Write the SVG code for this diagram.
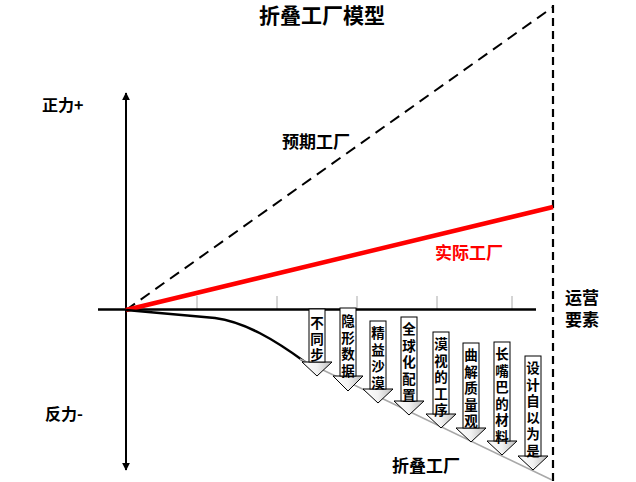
<svg xmlns="http://www.w3.org/2000/svg" width="636" height="482" viewBox="0 0 636 482">
<defs>
<linearGradient id="hg" x1="0" y1="0" x2="1" y2="0">
<stop offset="0" stop-color="#ffffff"/>
<stop offset="0.5" stop-color="#f2f2f2"/>
<stop offset="1" stop-color="#bdbdbd"/>
</linearGradient>
<marker id="ah" viewBox="0 0 10 10" refX="9" refY="5" markerWidth="4" markerHeight="4" orient="auto-start-reverse" markerUnits="strokeWidth">
<path d="M0,0 L10,5 L0,10 z" fill="#000"/>
</marker>
<style>
.t{font-family:"Noto Sans CJK SC","Liberation Sans",sans-serif;font-weight:bold;fill:#000}
.v{font-family:"Noto Sans CJK SC","Liberation Sans",sans-serif;font-weight:bold;font-size:13.5px;fill:#000;text-anchor:middle}
.shaft{fill:#fff;stroke:#000;stroke-width:1}
.head{fill:url(#hg);stroke:#000;stroke-width:1}
.tick{stroke:#aaa;stroke-width:1}
</style>
</defs>
<rect width="636" height="482" fill="#fff"/>
<text class="t" x="322" y="23" font-size="21" text-anchor="middle">折叠工厂模型</text>
<g id="connectors">
<line x1="126" y1="470" x2="126" y2="93" stroke="#000" stroke-width="2" marker-start="url(#ah)" marker-end="url(#ah)"/>
<line class="tick" x1="197" y1="296" x2="197" y2="310"/>
<line class="tick" x1="277" y1="296" x2="277" y2="310"/>
<line class="tick" x1="357" y1="296" x2="357" y2="310"/>
<line class="tick" x1="437" y1="296" x2="437" y2="310"/>
<line class="tick" x1="512" y1="296" x2="512" y2="310"/>
<line x1="98" y1="309.5" x2="536" y2="309.5" stroke="#000" stroke-width="2.5"/>
<line x1="553" y1="5" x2="553" y2="482" stroke="#000" stroke-width="2.2" stroke-dasharray="8,5"/>
<line x1="126" y1="310" x2="553" y2="7" stroke="#000" stroke-width="2" stroke-dasharray="11,7"/>
<line x1="126" y1="310" x2="553" y2="207" stroke="#ff0000" stroke-width="4.5"/>
<path d="M126,310 L215,318 C245,322 275,340 305,362" fill="none" stroke="#000" stroke-width="2.5"/>
<line x1="300" y1="359" x2="552" y2="480" stroke="#a8a8a8" stroke-width="1.5"/>
</g>
<g id="label-pos"><text class="t" x="42" y="111" font-size="16">正力+</text></g>
<g id="label-neg"><text class="t" x="45" y="420" font-size="16">反力-</text></g>
<g id="expected"><text class="t" x="282" y="148" font-size="17">预期工厂</text></g>
<g id="actual"><text class="t" x="435" y="259" font-size="17" style="fill:#ff0000">实际工厂</text></g>
<g id="elements"><text class="t" x="565" y="304" font-size="17">运营</text><text class="t" x="565" y="326" font-size="17">要素</text></g>
<g id="folding"><text class="t" x="392" y="472" font-size="17">折叠工厂</text></g>
<g id="a1">
<path class="head" d="M302,362 L332,362 L317,376 z"/>
<rect class="shaft" x="309" y="309" width="16" height="53"/>
<text class="v" x="317" y="328"><tspan x="317">不</tspan><tspan x="317" dy="16.2">同</tspan><tspan x="317" dy="16.2">步</tspan></text>
</g>
<g id="a2">
<path class="head" d="M333,376 L363,376 L348,391 z"/>
<rect class="shaft" x="340" y="308" width="16" height="68"/>
<text class="v" x="348" y="326"><tspan x="348">隐</tspan><tspan x="348" dy="16.5">形</tspan><tspan x="348" dy="16.5">数</tspan><tspan x="348" dy="16.5">据</tspan></text>
</g>
<g id="a3">
<path class="head" d="M363,389 L393,389 L378,403 z"/>
<rect class="shaft" x="370" y="321" width="16" height="68"/>
<text class="v" x="378" y="338"><tspan x="378">精</tspan><tspan x="378" dy="16.5">益</tspan><tspan x="378" dy="16.5">沙</tspan><tspan x="378" dy="16.5">漠</tspan></text>
</g>
<g id="a4">
<path class="head" d="M394,401 L424,401 L409,415 z"/>
<rect class="shaft" x="401" y="317" width="16" height="84"/>
<text class="v" x="409" y="334"><tspan x="409">全</tspan><tspan x="409" dy="16.5">球</tspan><tspan x="409" dy="16.5">化</tspan><tspan x="409" dy="16.5">配</tspan><tspan x="409" dy="16.5">置</tspan></text>
</g>
<g id="a5">
<path class="head" d="M426,414 L456,414 L441,428 z"/>
<rect class="shaft" x="433" y="332" width="16" height="82"/>
<text class="v" x="441" y="349"><tspan x="441">漠</tspan><tspan x="441" dy="16.5">视</tspan><tspan x="441" dy="16.5">的</tspan><tspan x="441" dy="16.5">工</tspan><tspan x="441" dy="16.5">序</tspan></text>
</g>
<g id="a6">
<path class="head" d="M456,428 L486,428 L471,442 z"/>
<rect class="shaft" x="463" y="343" width="16" height="85"/>
<text class="v" x="471" y="360"><tspan x="471">曲</tspan><tspan x="471" dy="16.5">解</tspan><tspan x="471" dy="16.5">质</tspan><tspan x="471" dy="16.5">量</tspan><tspan x="471" dy="16.5">观</tspan></text>
</g>
<g id="a7">
<path class="head" d="M487,441 L517,441 L502,455 z"/>
<rect class="shaft" x="494" y="342" width="16" height="99"/>
<text class="v" x="502" y="359"><tspan x="502">长</tspan><tspan x="502" dy="16.5">嘴</tspan><tspan x="502" dy="16.5">巴</tspan><tspan x="502" dy="16.5">的</tspan><tspan x="502" dy="16.5">材</tspan><tspan x="502" dy="16.5">料</tspan></text>
</g>
<g id="a8">
<path class="head" d="M518,456 L548,456 L533,470 z"/>
<rect class="shaft" x="525" y="356" width="16" height="100"/>
<text class="v" x="533" y="373"><tspan x="533">设</tspan><tspan x="533" dy="16.5">计</tspan><tspan x="533" dy="16.5">自</tspan><tspan x="533" dy="16.5">以</tspan><tspan x="533" dy="16.5">为</tspan><tspan x="533" dy="16.5">是</tspan></text>
</g>
</svg>
